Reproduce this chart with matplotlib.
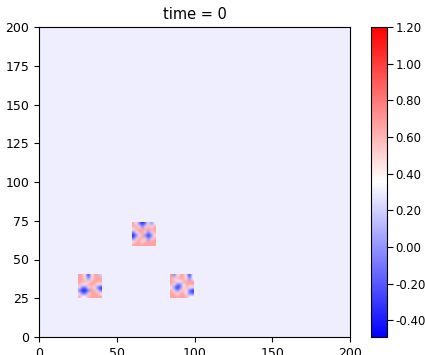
import numpy as np
import matplotlib
matplotlib.use("Agg")
import matplotlib.pyplot as plt

plt.rcParams["font.size"] = 9

# field settings
grid_size = 200
background_value = 0.30
vmin, vmax = -0.49, 1.20
cbar_ticks = [-0.4, -0.2, 0.0, 0.2, 0.4, 0.6, 0.8, 1.0, 1.2]

P, W, b, B = 0.66, 0.36, -0.12, -0.42

# patches: (x0, x1, y0, y1), rows listed from top to bottom
patch1_extent = (25, 40, 25, 40)
patch1 = [
    [P, P, W, B, W, P, P, 0.2],
    [P, P, W, b, W, P, P, P],
    [P, P, P, W, P, P, P, P],
    [P, W, W, P, P, P, W, W],
    [W, b, b, W, P, W, b, B],
    [b, B, B, b, P, P, W, b],
    [W, b, b, W, P, P, P, W],
    [P, W, W, P, P, P, P, P],
]

patch2_extent = (60, 75, 59, 74)
patch2 = [
    [P, W, b, B, b, W, b, W],
    [P, P, W, b, W, P, W, P],
    [W, P, P, P, P, P, P, P],
    [b, W, P, P, W, b, W, P],
    [B, b, W, P, b, B, b, W],
    [b, W, P, P, W, b, W, P],
    [W, P, P, W, P, P, P, P],
    [P, P, P, P, P, P, P, P],
]

patch3_extent = (84, 99, 25, 40)
patch3 = [
    [P, b, W, P, P, W, B, W],
    [P, W, P, P, P, W, b, W],
    [P, P, W, W, P, P, P, P],
    [P, W, b, b, W, P, P, P],
    [W, b, B, b, W, P, W, W],
    [P, W, b, W, P, W, b, B],
    [P, P, W, P, P, W, b, b],
    [P, P, P, P, P, P, W, W],
]

fig = plt.figure(figsize=(4.25, 3.55), dpi=100)
ax = fig.add_axes([39 / 425, 18 / 355, 311 / 425, 310 / 355])
cax = fig.add_axes([371 / 425, 18 / 355, 16 / 425, 310 / 355])

field = np.full((grid_size, grid_size), background_value)
im = ax.imshow(field, cmap="bwr", vmin=vmin, vmax=vmax, origin="lower",
               extent=(0, grid_size, 0, grid_size), interpolation="nearest")

for data, ext in [(patch1, patch1_extent), (patch2, patch2_extent), (patch3, patch3_extent)]:
    ax.imshow(np.array(data), cmap="bwr", vmin=vmin, vmax=vmax, origin="upper",
              extent=ext, interpolation="bicubic")

ax.set_xlim(0, grid_size)
ax.set_ylim(0, grid_size)
ax.set_aspect("auto")
ax.set_xticks([0, 50, 100, 150, 200])
ax.set_yticks([0, 25, 50, 75, 100, 125, 150, 175, 200])
ax.set_title("time = 0", fontsize=10.5)

cb = fig.colorbar(im, cax=cax, ticks=cbar_ticks, format="%.2f")
cb.ax.tick_params(labelsize=8.5, length=4, pad=2)

fig.savefig("out.png", dpi=100)
